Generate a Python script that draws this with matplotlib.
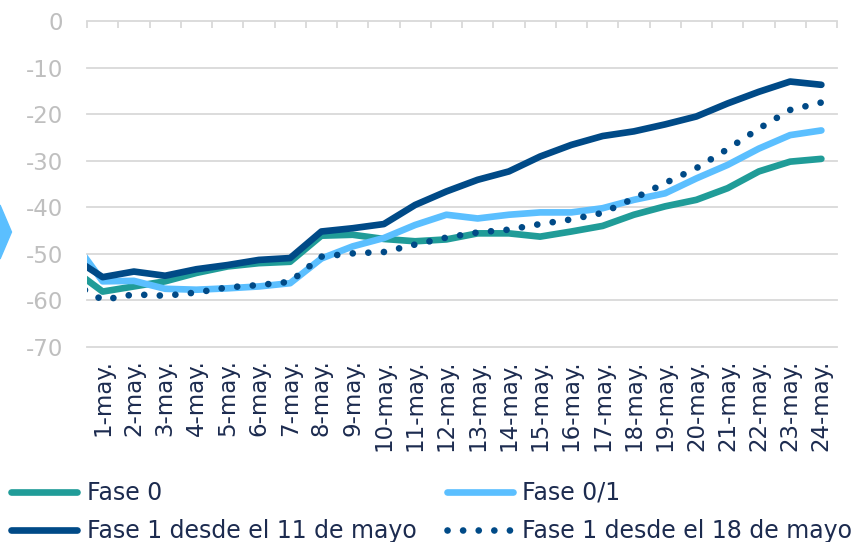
import matplotlib.pyplot as plt
import numpy as np
from matplotlib.patches import Polygon

plt.rcParams['font.family'] = ['DejaVu Sans']

# fechas (el primer punto, 30-abr., queda fuera del eje y solo marca el arranque de las lineas)
fechas = ['30-abr.'] + [str(d) + '-may.' for d in range(1, 25)]

fase0 = [-53.1, -58.1, -57.0, -55.9, -54.1, -52.7, -52.0, -51.7, -46.1, -45.9,
         -46.8, -47.3, -46.9, -45.6, -45.6, -46.3, -45.2, -44.0, -41.6, -39.8,
         -38.4, -35.9, -32.3, -30.2, -29.6]
fase01 = [-46.7, -55.9, -55.8, -57.5, -57.7, -57.4, -57.0, -56.3, -51.0, -48.4,
          -46.6, -43.8, -41.6, -42.4, -41.6, -41.1, -41.1, -40.2, -38.4, -37.0,
          -33.8, -30.9, -27.4, -24.5, -23.5]
fase1_11 = [-50.6, -55.0, -53.8, -54.7, -53.3, -52.4, -51.3, -50.9, -45.2, -44.5,
            -43.6, -39.5, -36.6, -34.1, -32.3, -29.1, -26.6, -24.7, -23.7, -22.2,
            -20.5, -17.7, -15.2, -13.0, -13.7]
fase1_18 = [-56.1, -59.9, -58.7, -59.0, -58.3, -57.2, -56.7, -56.0, -50.6, -49.9,
            -49.6, -48.0, -46.5, -45.4, -44.8, -43.6, -42.6, -41.2, -38.1, -34.8,
            -31.6, -27.5, -23.1, -19.1, -17.5]

nombres = ['Fase 0', 'Fase 0/1', 'Fase 1 desde el 11 de mayo', 'Fase 1 desde el 18 de mayo']
yticks = [-70, -60, -50, -40, -30, -20, -10, 0]
ylabels = ['-70', '-60', '-50', '-40', '-30', '-20', '-10', '0']

navy = '#004A87'
texto = '#1C2B4F'
gris = '#D9D9D9'

x = np.arange(len(fechas))

fig = plt.figure(figsize=(8.6, 5.42), dpi=100)
ax = fig.add_axes([87/860, 1-347/542, 750/860, 326/542])

lw = 4.8
l0, = ax.plot(x, fase0, color='#209C98', lw=lw, solid_capstyle='round', solid_joinstyle='round')
l01, = ax.plot(x, fase01, color='#5BBFFF', lw=lw, solid_capstyle='round', solid_joinstyle='round')
l11, = ax.plot(x, fase1_11, color=navy, lw=lw, solid_capstyle='round', solid_joinstyle='round')
l18, = ax.plot(x, fase1_18, color=navy, lw=lw, linestyle=(0, (0.01, 2.33)), dash_capstyle='round')

for v in yticks[:-1]:
    ax.axhline(v, color=gris, lw=1.3, zorder=0, clip_on=False)

ax.set_yticks(yticks)
ax.set_yticklabels(ylabels)
ax.tick_params(axis='y', length=0, pad=17, labelsize=16.5, labelcolor='#BFBFBF')

ax.set_xticks(x[1:])
ax.set_xticklabels(fechas[1:])
ax.tick_params(axis='x', which='major', length=0, pad=9, labelsize=16.5,
               labelcolor=texto, rotation=90)
ax.set_xticks(np.arange(0.5, 24.6, 1), minor=True)
ax.tick_params(axis='x', which='minor', bottom=False, top=True, direction='in',
               length=5, width=1.3, color=gris)

ax.set_xlim(0.5, 24.5)
ax.set_ylim(-70, 0)

for s in ['left', 'right', 'bottom']:
    ax.spines[s].set_visible(False)
ax.spines['top'].set_color(gris)
ax.spines['top'].set_linewidth(1.3)

fig.legend(handles=[l0, l11, l01, l18],
           labels=[nombres[0], nombres[2], nombres[1], nombres[3]],
           ncol=2, loc='upper left', bbox_to_anchor=(11/860, 1-481/542),
           frameon=False, fontsize=17, labelcolor=texto,
           handlelength=2.8, handletextpad=0.4, columnspacing=1.28,
           labelspacing=0.6, borderpad=0, borderaxespad=0)

# flecha decorativa a la izquierda
fig.add_artist(Polygon([[0, 1-205/542], [11.5/860, 1-232/542], [0, 1-259/542]],
                       closed=True, color='#5BBFFF', transform=fig.transFigure))

fig.savefig('out.png', dpi=100)
